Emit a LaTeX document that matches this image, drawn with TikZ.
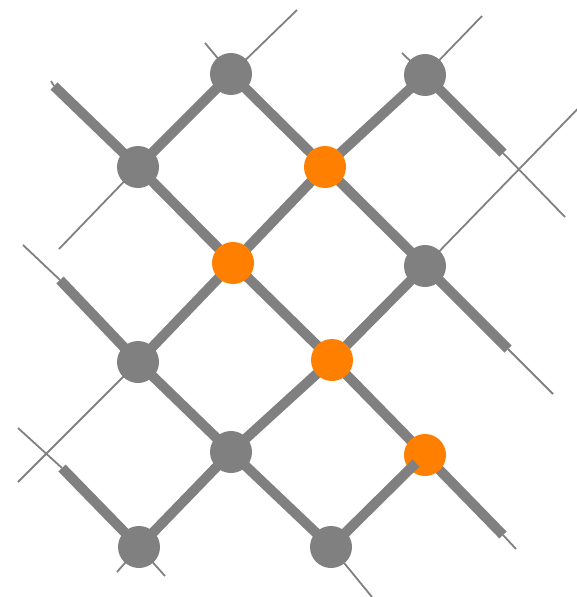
\documentclass[tikz,border=0pt]{standalone}
\definecolor{gv}{HTML}{808080}
\definecolor{ov}{HTML}{FF8000}
\pgfdeclarelayer{bg}
\pgfsetlayers{bg,main}
\begin{document}
\begin{tikzpicture}[x=1pt,y=-1pt,
  grayv/.style={circle,minimum size=42pt,inner sep=0pt,fill=gv},
  orangev/.style={circle,minimum size=42pt,inner sep=0pt,fill=ov},
  thin line/.style={draw=gv,line width=1.8pt},
  thick line/.style={draw=gv,line width=10pt}]
\useasboundingbox (0,0) rectangle (576,597);
\clip (0,0) rectangle (576,597);
% vertices
\node[grayv] (A) at (231,74) {};
\node[grayv] (B) at (425,75) {};
\node[grayv] (C) at (138,167) {};
\node[orangev] (D) at (325,167) {};
\node[orangev] (E) at (233,263) {};
\node[grayv] (F) at (425,266) {};
\node[grayv] (G) at (138,362) {};
\node[orangev] (H) at (332,360) {};
\node[grayv] (I) at (231,452) {};
\node[orangev] (J) at (425,455) {};
\node[grayv] (K) at (139,547) {};
\node[grayv] (L) at (331,547) {};
% free ends
\coordinate (a1) at (205,43);
\coordinate (a2) at (297,10);
\coordinate (b1) at (402,53);
\coordinate (b2) at (482,16);
\coordinate (b3) at (503,153);
\coordinate (b4) at (565,217);
\coordinate (c0) at (51,81);
\coordinate (c1) at (54,86);
\coordinate (c2) at (59,249);
\coordinate (f1) at (595,91);
\coordinate (f2) at (508,349);
\coordinate (f3) at (553,394);
\coordinate (g0) at (23,245);
\coordinate (g1) at (60,280);
\coordinate (g2) at (18,482);
\coordinate (k0) at (18,428);
\coordinate (k1) at (62,468);
\coordinate (k2) at (117,572);
\coordinate (k3) at (165,576);
\coordinate (l1) at (372,597);
\coordinate (j1) at (503,535);
\coordinate (j2) at (516,549);
\coordinate (j0) at (416,463);
\begin{pgfonlayer}{bg}
% thin lines
\path[thin line] (A.center) -- (a1);
\path[thin line] (A.center) -- (a2);
\path[thin line] (B.center) -- (b1);
\path[thin line] (B.center) -- (b2);
\path[thin line] (b3) -- (b4);
\path[thin line] (c0) -- (c1);
\path[thin line] (C.center) -- (c2);
\path[thin line] (F.center) -- (f1);
\path[thin line] (f2) -- (f3);
\path[thin line] (g0) -- (g1);
\path[thin line] (G.center) -- (g2);
\path[thin line] (k0) -- (k1);
\path[thin line] (K.center) -- (k2);
\path[thin line] (K.center) -- (k3);
\path[thin line] (L.center) -- (l1);
\path[thin line] (j1) -- (j2);
% thick lines
\path[thick line] (C.center) -- (A.center);
\path[thick line] (A.center) -- (D.center);
\path[thick line] (D.center) -- (B.center);
\path[thick line] (B.center) -- (b3);
\path[thick line] (c1) -- (C.center);
\path[thick line] (C.center) -- (E.center);
\path[thick line] (D.center) -- (E.center);
\path[thick line] (D.center) -- (F.center);
\path[thick line] (F.center) -- (f2);
\path[thick line] (E.center) -- (G.center);
\path[thick line] (E.center) -- (H.center);
\path[thick line] (H.center) -- (F.center);
\path[thick line] (g1) -- (G.center);
\path[thick line] (G.center) -- (I.center);
\path[thick line] (H.center) -- (I.center);
\path[thick line] (H.center) -- (J.center);
\path[thick line] (J.center) -- (j1);
\path[thick line] (k1) -- (K.center);
\path[thick line] (I.center) -- (K.center);
\path[thick line] (I.center) -- (L.center);
\end{pgfonlayer}
\path[thick line] (L.center) -- (j0);
\end{tikzpicture}
\end{document}
